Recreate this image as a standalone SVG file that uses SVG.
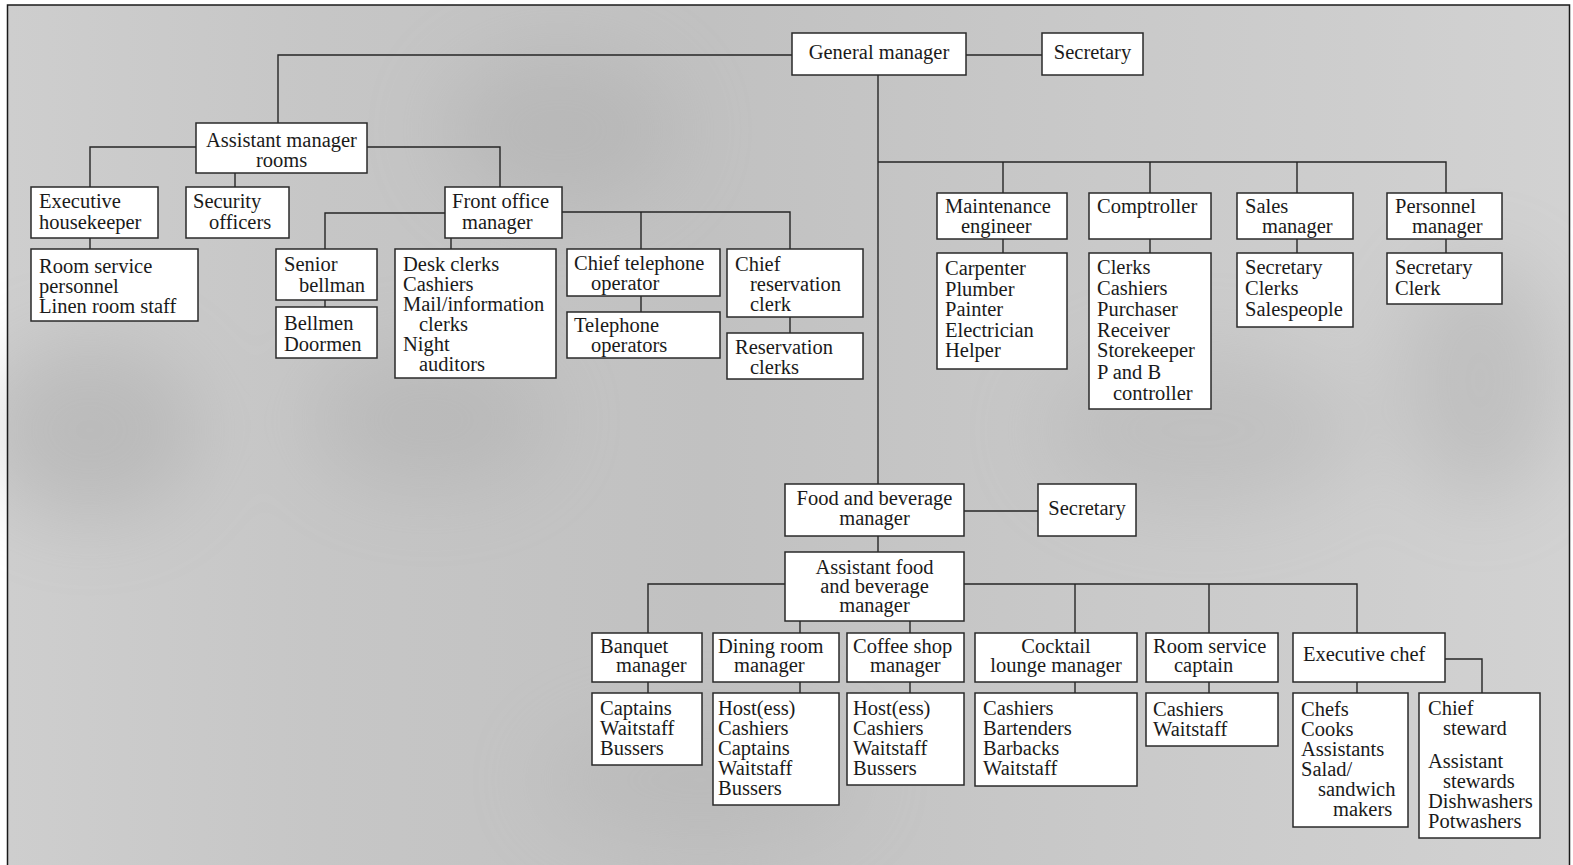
<svg xmlns="http://www.w3.org/2000/svg" width="1573" height="865" viewBox="0 0 1573 865">
<style>
.box{fill:#fff;stroke:#2a2a2a;stroke-width:1.5}
.t{font-family:'Liberation Serif','Times New Roman',Times,'DejaVu Serif',serif;font-size:20.5px;fill:#1a1a1a}
.c{text-anchor:middle}
.conn{fill:none;stroke:#262626;stroke-width:1.4}
</style>
<defs>
<linearGradient id="bg" x1="0" y1="0" x2="1" y2="0">
<stop offset="0" stop-color="#cecece"/>
<stop offset="0.2" stop-color="#c6c6c6"/>
<stop offset="0.45" stop-color="#c1c1c1"/>
<stop offset="0.7" stop-color="#c9c9c9"/>
<stop offset="1" stop-color="#d2d2d2"/>
</linearGradient>
<filter id="blur" x="-50%" y="-50%" width="200%" height="200%"><feGaussianBlur stdDeviation="40"/></filter>
</defs>
<rect x="0" y="0" width="1573" height="865" fill="#ffffff"/>
<rect x="7.5" y="5" width="1562" height="865" fill="url(#bg)"/>
<g filter="url(#blur)" opacity="0.25">
<ellipse cx="90" cy="430" rx="110" ry="90" fill="#8a8a8a"/>
<ellipse cx="430" cy="420" rx="120" ry="70" fill="#9a9a9a"/>
<ellipse cx="560" cy="130" rx="120" ry="80" fill="#9a9a9a"/>
<ellipse cx="1200" cy="430" rx="160" ry="80" fill="#a0a0a0"/>
<ellipse cx="1480" cy="380" rx="80" ry="120" fill="#8f8f8f"/>
<ellipse cx="700" cy="780" rx="160" ry="60" fill="#a8a8a8"/>
</g>
<path d="M7.5,865 V5 H1569.5 V865" fill="none" stroke="#1a1a1a" stroke-width="1.5"/>

<g id="connectors" class="conn">
<path d="M792,55 H278 V123"/>
<path d="M966,55 H1042"/>
<path d="M878,75 V484"/>
<path d="M196,147 H90 V187"/>
<path d="M367,147 H500 V187"/>
<path d="M235,173 V187"/>
<path d="M90,238 V249"/>
<path d="M445,213 H325 V249"/>
<path d="M325,300 V307"/>
<path d="M451,238 V249"/>
<path d="M562,212 H790 V249"/>
<path d="M641,212 V249"/>
<path d="M641,296 V312"/>
<path d="M790,317 V333"/>
<path d="M878,162 H1446 V193"/>
<path d="M1003,162 V193"/>
<path d="M1150,162 V193"/>
<path d="M1297,162 V193"/>
<path d="M1003,239 V253"/>
<path d="M1150,239 V253"/>
<path d="M1297,239 V253"/>
<path d="M1446,239 V253"/>
<path d="M964,511 H1038"/>
<path d="M878,536 V552"/>
<path d="M785,584 H648 V633"/>
<path d="M964,584 H1357 V633"/>
<path d="M1075,584 V633"/>
<path d="M1209,584 V633"/>
<path d="M800,621 V633"/>
<path d="M910,621 V633"/>
<path d="M648,682 V693"/>
<path d="M800,682 V693"/>
<path d="M910,682 V693"/>
<path d="M1075,682 V693"/>
<path d="M1209,682 V693"/>
<path d="M1357,682 V693"/>
<path d="M1445,659 H1482 V693"/>
</g>

<g id="general-manager"><rect class="box" x="792" y="33" width="174" height="42"/><text class="t c" x="879" y="59">General manager</text></g>
<g id="gm-secretary"><rect class="box" x="1042" y="33" width="101" height="42"/><text class="t c" x="1092.5" y="59">Secretary</text></g>

<g id="asst-manager-rooms"><rect class="box" x="196" y="123" width="171" height="50"/><text class="t c" x="281.5" y="147">Assistant manager</text><text class="t c" x="281.5" y="167">rooms</text></g>
<g id="executive-housekeeper"><rect class="box" x="31" y="187" width="127" height="51"/><text class="t" x="39" y="208">Executive</text><text class="t" x="39" y="229">housekeeper</text></g>
<g id="security-officers"><rect class="box" x="186" y="187" width="103" height="51"/><text class="t" x="193" y="208">Security</text><text class="t" x="209" y="229">officers</text></g>
<g id="front-office-manager"><rect class="box" x="445" y="187" width="117" height="51"/><text class="t" x="452" y="208">Front office</text><text class="t" x="462" y="229">manager</text></g>
<g id="room-service-personnel"><rect class="box" x="31" y="249" width="167" height="72"/><text class="t" x="39" y="273">Room service</text><text class="t" x="39" y="293">personnel</text><text class="t" x="39" y="313">Linen room staff</text></g>
<g id="senior-bellman"><rect class="box" x="276" y="249" width="101" height="51"/><text class="t" x="284" y="271">Senior</text><text class="t" x="299" y="292">bellman</text></g>
<g id="bellmen"><rect class="box" x="276" y="307" width="101" height="51"/><text class="t" x="284" y="330">Bellmen</text><text class="t" x="284" y="351">Doormen</text></g>
<g id="desk-clerks"><rect class="box" x="395" y="249" width="161" height="129"/><text class="t" x="403" y="271">Desk clerks</text><text class="t" x="403" y="291">Cashiers</text><text class="t" x="403" y="311">Mail/information</text><text class="t" x="419" y="331">clerks</text><text class="t" x="403" y="351">Night</text><text class="t" x="419" y="371">auditors</text></g>
<g id="chief-telephone-operator"><rect class="box" x="567" y="249" width="153" height="47"/><text class="t" x="574" y="270">Chief telephone</text><text class="t" x="591" y="290">operator</text></g>
<g id="telephone-operators"><rect class="box" x="567" y="312" width="153" height="46"/><text class="t" x="574" y="332">Telephone</text><text class="t" x="591" y="352">operators</text></g>
<g id="chief-reservation-clerk"><rect class="box" x="727" y="249" width="136" height="68"/><text class="t" x="735" y="271">Chief</text><text class="t" x="750" y="291">reservation</text><text class="t" x="750" y="311">clerk</text></g>
<g id="reservation-clerks"><rect class="box" x="727" y="333" width="136" height="46"/><text class="t" x="735" y="354">Reservation</text><text class="t" x="750" y="374">clerks</text></g>

<g id="maintenance-engineer"><rect class="box" x="937" y="193" width="130" height="46"/><text class="t" x="945" y="213">Maintenance</text><text class="t" x="961" y="233">engineer</text></g>
<g id="maintenance-staff"><rect class="box" x="937" y="253" width="130" height="116"/><text class="t" x="945" y="275">Carpenter</text><text class="t" x="945" y="296">Plumber</text><text class="t" x="945" y="316">Painter</text><text class="t" x="945" y="337">Electrician</text><text class="t" x="945" y="357">Helper</text></g>
<g id="comptroller"><rect class="box" x="1089" y="193" width="122" height="46"/><text class="t" x="1097" y="213">Comptroller</text></g>
<g id="comptroller-staff"><rect class="box" x="1089" y="253" width="122" height="156"/><text class="t" x="1097" y="274">Clerks</text><text class="t" x="1097" y="295">Cashiers</text><text class="t" x="1097" y="316">Purchaser</text><text class="t" x="1097" y="337">Receiver</text><text class="t" x="1097" y="357">Storekeeper</text><text class="t" x="1097" y="379">P and B</text><text class="t" x="1113" y="400">controller</text></g>
<g id="sales-manager"><rect class="box" x="1237" y="193" width="116" height="46"/><text class="t" x="1245" y="213">Sales</text><text class="t" x="1262" y="233">manager</text></g>
<g id="sales-staff"><rect class="box" x="1237" y="253" width="116" height="74"/><text class="t" x="1245" y="274">Secretary</text><text class="t" x="1245" y="295">Clerks</text><text class="t" x="1245" y="316">Salespeople</text></g>
<g id="personnel-manager"><rect class="box" x="1387" y="193" width="115" height="46"/><text class="t" x="1395" y="213">Personnel</text><text class="t" x="1412" y="233">manager</text></g>
<g id="personnel-staff"><rect class="box" x="1387" y="253" width="115" height="51"/><text class="t" x="1395" y="274">Secretary</text><text class="t" x="1395" y="295">Clerk</text></g>

<g id="food-beverage-manager"><rect class="box" x="785" y="484" width="179" height="52"/><text class="t c" x="874.5" y="505">Food and beverage</text><text class="t c" x="874.5" y="525">manager</text></g>
<g id="fb-secretary"><rect class="box" x="1038" y="484" width="98" height="52"/><text class="t c" x="1087" y="515">Secretary</text></g>
<g id="asst-food-beverage-manager"><rect class="box" x="785" y="552" width="179" height="69"/><text class="t c" x="874.5" y="574">Assistant food</text><text class="t c" x="874.5" y="593">and beverage</text><text class="t c" x="874.5" y="612">manager</text></g>

<g id="banquet-manager"><rect class="box" x="592" y="633" width="110" height="49"/><text class="t" x="600" y="653">Banquet</text><text class="t" x="616" y="672">manager</text></g>
<g id="banquet-staff"><rect class="box" x="592" y="693" width="110" height="72"/><text class="t" x="600" y="715">Captains</text><text class="t" x="600" y="735">Waitstaff</text><text class="t" x="600" y="755">Bussers</text></g>
<g id="dining-room-manager"><rect class="box" x="713" y="633" width="126" height="49"/><text class="t" x="718" y="653">Dining room</text><text class="t" x="734" y="672">manager</text></g>
<g id="dining-staff"><rect class="box" x="713" y="693" width="126" height="112"/><text class="t" x="718" y="715">Host(ess)</text><text class="t" x="718" y="735">Cashiers</text><text class="t" x="718" y="755">Captains</text><text class="t" x="718" y="775">Waitstaff</text><text class="t" x="718" y="795">Bussers</text></g>
<g id="coffee-shop-manager"><rect class="box" x="847" y="633" width="117" height="49"/><text class="t" x="853" y="653">Coffee shop</text><text class="t" x="870" y="672">manager</text></g>
<g id="coffee-staff"><rect class="box" x="847" y="693" width="117" height="92"/><text class="t" x="853" y="715">Host(ess)</text><text class="t" x="853" y="735">Cashiers</text><text class="t" x="853" y="755">Waitstaff</text><text class="t" x="853" y="775">Bussers</text></g>
<g id="cocktail-lounge-manager"><rect class="box" x="975" y="633" width="162" height="49"/><text class="t c" x="1056" y="653">Cocktail</text><text class="t c" x="1056" y="672">lounge manager</text></g>
<g id="cocktail-staff"><rect class="box" x="975" y="693" width="162" height="93"/><text class="t" x="983" y="715">Cashiers</text><text class="t" x="983" y="735">Bartenders</text><text class="t" x="983" y="755">Barbacks</text><text class="t" x="983" y="775">Waitstaff</text></g>
<g id="room-service-captain"><rect class="box" x="1146" y="633" width="132" height="49"/><text class="t" x="1153" y="653">Room service</text><text class="t" x="1174" y="672">captain</text></g>
<g id="room-service-staff"><rect class="box" x="1146" y="693" width="132" height="53"/><text class="t" x="1153" y="716">Cashiers</text><text class="t" x="1153" y="736">Waitstaff</text></g>
<g id="executive-chef"><rect class="box" x="1293" y="633" width="152" height="49"/><text class="t" x="1303" y="661">Executive chef</text></g>
<g id="kitchen-staff"><rect class="box" x="1293" y="693" width="115" height="134"/><text class="t" x="1301" y="716">Chefs</text><text class="t" x="1301" y="736">Cooks</text><text class="t" x="1301" y="756">Assistants</text><text class="t" x="1301" y="776">Salad/</text><text class="t" x="1318" y="796">sandwich</text><text class="t" x="1333" y="816">makers</text></g>
<g id="chief-steward"><rect class="box" x="1419" y="693" width="121" height="145"/><text class="t" x="1428" y="715">Chief</text><text class="t" x="1443" y="735">steward</text><text class="t" x="1428" y="768">Assistant</text><text class="t" x="1443" y="788">stewards</text><text class="t" x="1428" y="808">Dishwashers</text><text class="t" x="1428" y="828">Potwashers</text></g>
</svg>
